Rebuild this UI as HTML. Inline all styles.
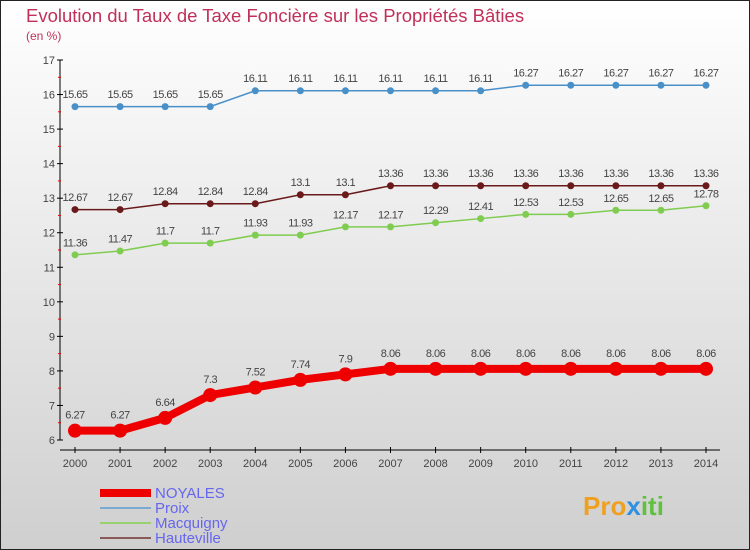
<!DOCTYPE html>
<html><head><meta charset="utf-8"><style>
body{margin:0;width:750px;height:550px;overflow:hidden}
svg{display:block;font-family:"Liberation Sans",sans-serif}
</style></head><body>
<svg width="750" height="550">
<defs><linearGradient id="bg" x1="0" y1="0" x2="0" y2="1"><stop offset="0" stop-color="#ffffff"/><stop offset="1" stop-color="#cfcfcf"/></linearGradient></defs>
<rect x="0.5" y="0.5" width="749" height="549" fill="url(#bg)" stroke="#222"/>
<text x="26" y="22" font-size="18.5" fill="#c0305a">Evolution du Taux de Taxe Foncière sur les Propriétés Bâties</text>
<text x="26" y="40" font-size="12" fill="#c0305a">(en %)</text>
<g id="axes"></g><g id="series"></g>
<g font-size="15" fill="#6666ee">
<line x1="100" y1="493" x2="151" y2="493" stroke="#ee0000" stroke-width="8"/>
<text x="155" y="498">NOYALES</text>
<line x1="100" y1="508" x2="151" y2="508" stroke="#7aaad0" stroke-width="2"/>
<text x="155" y="513">Proix</text>
<line x1="100" y1="523" x2="151" y2="523" stroke="#99d070" stroke-width="2"/>
<text x="155" y="528">Macquigny</text>
<line x1="100" y1="538" x2="151" y2="538" stroke="#8a5a5a" stroke-width="2"/>
<text x="155" y="543">Hauteville</text>
</g>
<text x="583" y="515" font-size="26" font-weight="bold" fill="#f0a020">Pro<tspan fill="#3090e0">x</tspan><tspan fill="#60c040">iti</tspan></text>
</svg>
<script>
const years=[2000,2001,2002,2003,2004,2005,2006,2007,2008,2009,2010,2011,2012,2013,2014];
const yTicks=[6,7,8,9,10,11,12,13,14,15,16,17];
const noyales=[6.27,6.27,6.64,7.3,7.52,7.74,7.9,8.06,8.06,8.06,8.06,8.06,8.06,8.06,8.06];
const proix=[15.65,15.65,15.65,15.65,16.11,16.11,16.11,16.11,16.11,16.11,16.27,16.27,16.27,16.27,16.27];
const macquigny=[11.36,11.47,11.7,11.7,11.93,11.93,12.17,12.17,12.29,12.41,12.53,12.53,12.65,12.65,12.78];
const hauteville=[12.67,12.67,12.84,12.84,12.84,13.1,13.1,13.36,13.36,13.36,13.36,13.36,13.36,13.36,13.36];
const NS="http://www.w3.org/2000/svg";
const x=i=>75+i*(706-75)/(years.length-1);
const y=v=>440-(v-6)*(380/11);
function mk(t,a,p){const e=document.createElementNS(NS,t);for(const k in a)e.setAttribute(k,a[k]);p.appendChild(e);return e;}
const ax=document.getElementById('axes');
const yl=mk('line',{x1:60,y1:60,x2:60,y2:440,stroke:'#000'},ax);


const xl=mk('line',{x1:60,y1:450,x2:720,y2:450,stroke:'#000'},ax);


yTicks.forEach(v=>{
 mk('line',{x1:57,y1:y(v),x2:63,y2:y(v),stroke:'#000'},ax);
 if(v<17)mk('line',{x1:58,y1:y(v+0.5),x2:61,y2:y(v+0.5),stroke:'#e00'},ax);
 const t=mk('text',{x:55,y:y(v)+4,'font-size':11,'text-anchor':'end',fill:'#444'},ax);t.textContent=v;
 
 
});
years.forEach((yr,i)=>{
 mk('line',{x1:x(i),y1:447,x2:x(i),y2:453,stroke:'#000'},ax);
 const t=mk('text',{x:x(i),y:467,'font-size':11,'text-anchor':'middle',fill:'#444'},ax);t.textContent=yr;
 
 
});
const sg=document.getElementById('series');
function draw(vals,name,color,lw,r){
 const g=mk('g',{},sg);
 
 
 const pl=mk('polyline',{points:vals.map((v,i)=>x(i)+','+y(v)).join(' '),fill:'none',stroke:color,'stroke-width':lw},g);
 
 
 vals.forEach((v,i)=>{
  const c=mk('circle',{cx:x(i),cy:y(v),r:r,fill:color},g);
  
  
  const t=mk('text',{x:x(i),y:y(v)-(r+5),'font-size':11,'text-anchor':'middle',fill:'#444','letter-spacing':'-0.5'},g);t.textContent=v;
  
  
 });
}
draw(proix,'proix','#4a90c8',1.5,3.5);
draw(hauteville,'hauteville','#6a1a1a',1.5,3.5);
draw(macquigny,'macquigny','#80cc50',1.5,3.5);
draw(noyales,'noyales','#ee0000',8,7);
</script>
</body></html>
